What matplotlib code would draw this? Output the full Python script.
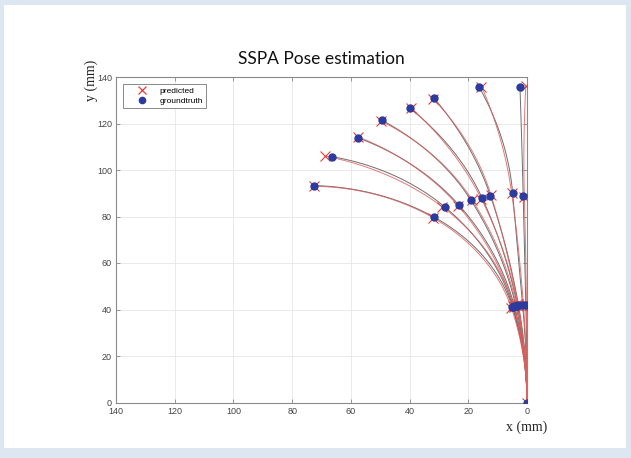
import numpy as np
import matplotlib
matplotlib.use("Agg")
import matplotlib.pyplot as plt
from matplotlib.lines import Line2D
from matplotlib.patches import Rectangle

# ground-truth joint positions (x, y in mm) for the 8 poses: base joint, middle joint, tip
gt_j1_x = [5.0, 4.8, 4.3, 3.8, 3.3, 2.9, 1.5, 0.4]
gt_j1_y = [41.0, 41.2, 41.4, 41.5, 41.7, 41.9, 42.0, 42.0]
gt_j2_x = [31.6, 27.9, 23.1, 19.1, 15.3, 12.5, 4.9, 1.3]
gt_j2_y = [79.7, 84.0, 84.8, 87.0, 88.0, 89.0, 90.2, 88.7]
gt_tip_x = [72.4, 66.3, 57.7, 49.3, 39.9, 31.6, 16.3, 2.4]
gt_tip_y = [93.3, 105.7, 113.9, 121.3, 126.5, 130.8, 135.6, 135.9]

# predicted joint positions
pr_j1_x = [5.3, 4.6, 4.5, 3.6, 3.1, 3.1, 1.2, 0.2]
pr_j1_y = [40.6, 41.5, 41.0, 41.8, 41.4, 42.2, 41.6, 42.3]
pr_j2_x = [31.9, 29.0, 23.4, 18.8, 15.6, 12.3, 5.2, 0.9]
pr_j2_y = [79.4, 84.3, 84.5, 87.3, 87.7, 89.3, 89.9, 88.4]
pr_tip_x = [72.7, 68.8, 57.4, 49.6, 39.6, 31.9, 15.5, 0.4]
pr_tip_y = [93.0, 106.0, 114.2, 121.0, 126.8, 130.5, 135.9, 136.1]

x_ticks = [0, 20, 40, 60, 80, 100, 120, 140]
y_ticks = [0, 20, 40, 60, 80, 100, 120, 140]


def arc(p, t, q, n=40):
    """constant-curvature arc from p (tangent t) to q; returns points and end tangent"""
    p = np.asarray(p, float)
    q = np.asarray(q, float)
    c = q - p
    nrm = np.array([-t[1], t[0]])
    phi = np.arctan2(t[0] * c[1] - t[1] * c[0], t @ c)
    if abs(phi) < 1e-6:
        s = np.linspace(0, 1, n)[:, None]
        return p + s * c, t
    r = np.linalg.norm(c) / (2 * np.sin(phi))
    s = np.linspace(0, 2 * phi, n)[:, None]
    pts = p + r * (np.sin(s) * t + (1 - np.cos(s)) * nrm)
    a = 2 * phi
    t_end = np.array([t[0] * np.cos(a) - t[1] * np.sin(a),
                      t[0] * np.sin(a) + t[1] * np.cos(a)])
    return pts, t_end


def backbone(j1, j2, tip):
    t = np.array([0.0, 1.0])
    segs = []
    start = (0.0, 0.0)
    for q in (j1, j2, tip):
        pts, t = arc(start, t, q)
        segs.append(pts)
        start = q
    return np.vstack(segs)


fig = plt.figure(figsize=(6.31, 4.58), dpi=100)
fig.patch.set_facecolor("#dde7f1")
fig.patches.append(Rectangle((4 / 631, 10 / 458), 622 / 631, 443 / 458,
                             transform=fig.transFigure, facecolor="white",
                             edgecolor="none", zorder=-5))

ax = fig.add_axes([116 / 631, 55.5 / 458, 411 / 631, 325.5 / 458])
ax.set_zorder(2)
ax.set_xlim(140, 0)
ax.set_ylim(0, 140)

for i in range(len(gt_tip_x)):
    g = backbone((gt_j1_x[i], gt_j1_y[i]), (gt_j2_x[i], gt_j2_y[i]),
                 (gt_tip_x[i], gt_tip_y[i]))
    p = backbone((pr_j1_x[i], pr_j1_y[i]), (pr_j2_x[i], pr_j2_y[i]),
                 (pr_tip_x[i], pr_tip_y[i]))
    ax.plot(g[:, 0], g[:, 1], color="#4a4a4a", lw=0.7, alpha=0.8, zorder=2)
    ax.plot(p[:, 0], p[:, 1], color="#e0605f", lw=0.7, alpha=0.85, zorder=3)

gx = [0] + gt_j1_x + gt_j2_x + gt_tip_x
gy = [0] + gt_j1_y + gt_j2_y + gt_tip_y
px = [0] + pr_j1_x + pr_j2_x + pr_tip_x
py = [0] + pr_j1_y + pr_j2_y + pr_tip_y
ax.plot(px, py, "x", color="#e8403a", ms=6.5, mew=0.8, ls="none", zorder=4)
ax.plot(gx, gy, "o", color="#2b3b9e", ms=5, mec="#2b3b9e", ls="none", zorder=5)

ax.set_xticks(x_ticks)
ax.set_yticks(y_ticks)
ax.grid(True, color="#e6e6e6", lw=0.6)
ax.set_axisbelow(True)
ax.tick_params(direction="in", length=3, width=0.6, colors="#888888",
               labelcolor="#444444", labelsize=6.5, top=True, right=True, pad=3)
for lab in ax.get_xticklabels() + ax.get_yticklabels():
    lab.set_family("Liberation Sans")
for sp in ax.spines.values():
    sp.set_color("#8a8a8a")
    sp.set_linewidth(0.8)

handles = [Line2D([], [], marker="x", color="#e8403a", ls="none", ms=6, mew=0.9),
           Line2D([], [], marker="o", color="#2b3b9e", ls="none", ms=4.5)]
leg = ax.legend(handles, ["predicted", "groundtruth"], loc="upper left",
                bbox_to_anchor=(0.017, 0.978), borderaxespad=0, fancybox=False,
                edgecolor="#777777", framealpha=1,
                handlelength=3.8, handletextpad=0.2, labelspacing=0.2,
                borderpad=0.4, prop={"family": "Liberation Sans", "size": 6})
leg.get_frame().set_linewidth(0.6)

fig.text(321 / 631, 1 - 59 / 458, "SSPA Pose estimation", ha="center", va="center",
         fontsize=12.5, family="Lato", color="#111111")
fig.text(91 / 631, 1 - 80 / 458, "y (mm)", rotation=90, ha="center", va="center",
         fontsize=10, family="Liberation Serif", color="#222222")
fig.text(527 / 631, 1 - 427 / 458, "x (mm)", ha="center", va="center",
         fontsize=10, family="Liberation Serif", color="#222222")

fig.savefig("out.png", dpi=100, facecolor=fig.get_facecolor())
